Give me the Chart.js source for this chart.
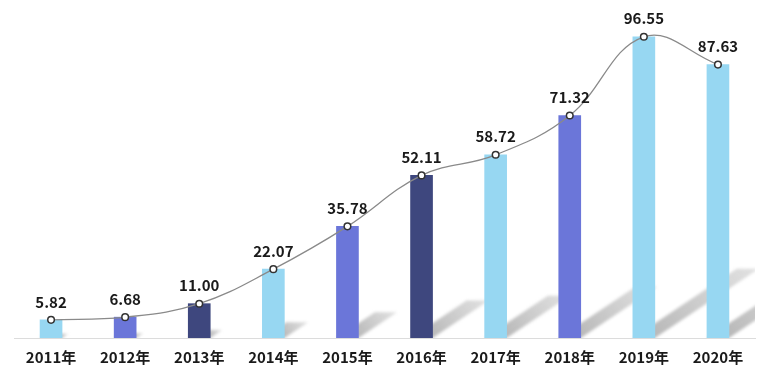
<!DOCTYPE html>
<html><head><meta charset="utf-8">
<script src="https://cdn.jsdelivr.net/npm/chart.js@4/dist/chart.umd.min.js"></script>
<style>html,body{margin:0;padding:0;background:#fff}#wrap{width:775px;height:375px}</style>
</head><body><div id="wrap"><canvas id="c" width="775" height="375"></canvas></div>
<script>
const categories = ['2011年','2012年','2013年','2014年','2015年','2016年','2017年','2018年','2019年','2020年'];
const values = [5.82, 6.68, 11.00, 22.07, 35.78, 52.11, 58.72, 71.32, 96.55, 87.63];
const valueLabels = ['5.82','6.68','11.00','22.07','35.78','52.11','58.72','71.32','96.55','87.63'];
const LIGHT = '#97d7f2', MID = '#6b76d9', DARK = '#3e477e';
const barColors = [LIGHT, MID, DARK, LIGHT, MID, DARK, LIGHT, MID, LIGHT, LIGHT];
const FONT = '"Noto Sans CJK SC", "Noto Sans", sans-serif';

const shadowPlugin = {
  id: 'shadows',
  beforeDatasetsDraw(chart) {
    const ctx = chart.ctx, a = chart.chartArea;
    const meta = chart.getDatasetMeta(0);
    ctx.save();
    ctx.beginPath(); ctx.rect(a.left, a.top, a.right - a.left, a.bottom - a.top); ctx.clip();
    ctx.filter = 'blur(1.5px)';
    meta.data.forEach(bar => {
      const h = bar.base - bar.y;
      const dy = h * 0.23, dx = dy * 1.5;
      const l = bar.x - bar.width / 2, r = bar.x + bar.width / 2, b = bar.base;
      const g = ctx.createLinearGradient(r, b, r + dx, b - dy);
      g.addColorStop(0, 'rgba(160,160,160,0.75)');
      g.addColorStop(1, 'rgba(200,200,200,0.55)');
      ctx.fillStyle = g;
      ctx.beginPath();
      ctx.moveTo(l, b); ctx.lineTo(r, b);
      ctx.lineTo(r + dx, b - dy); ctx.lineTo(l + dx, b - dy);
      ctx.closePath(); ctx.fill();
    });
    ctx.restore();
  }
};
const labelPlugin = {
  id: 'vlabels',
  afterDatasetsDraw(chart) {
    const ctx = chart.ctx;
    const meta = chart.getDatasetMeta(1);
    ctx.save();
    ctx.font = 'bold 15px ' + FONT;
    ctx.fillStyle = '#1a1a1a';
    ctx.textAlign = 'center'; ctx.textBaseline = 'middle';
    meta.data.forEach((p, i) => ctx.fillText(valueLabels[i], p.x, p.y - 18));
    ctx.restore();
  }
};

new Chart(document.getElementById('c'), {
  data: {
    labels: categories,
    datasets: [
      { type: 'bar', data: values, backgroundColor: barColors, barThickness: 22, order: 2 },
      { type: 'line', data: values, borderColor: '#8a8a8a', borderWidth: 1.3, tension: 0.4,
        pointRadius: 3.3, pointBorderWidth: 1.5, pointBackgroundColor: '#fff', pointBorderColor: '#333', order: 1 }
    ]
  },
  options: {
    responsive: false, animation: false,
    layout: { padding: { left: 14, right: 20, top: 26, bottom: 7 } },
    plugins: { legend: { display: false }, tooltip: { enabled: false } },
    scales: {
      x: { grid: { display: false }, border: { display: true, color: '#dcdcdc', width: 1 },
           ticks: { color: '#1a1a1a', font: { family: FONT, size: 15, weight: 'bold' }, padding: 2 } },
      y: { display: false, min: 0, max: 100 }
    }
  },
  plugins: [shadowPlugin, labelPlugin]
});
</script></body></html>
